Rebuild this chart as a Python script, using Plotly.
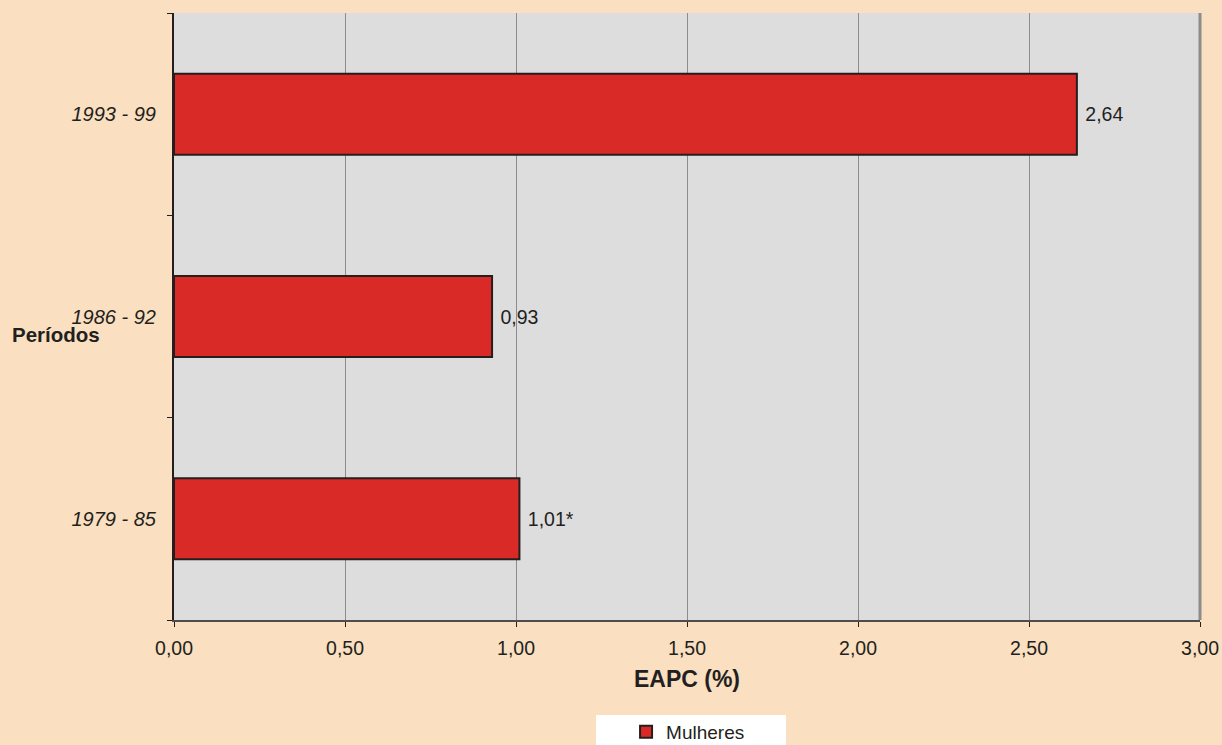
import plotly.graph_objects as go

periods = ["1979 - 85", "1986 - 92", "1993 - 99"]
values = [1.01, 0.93, 2.64]
value_labels = ["1,01*", "0,93", "2,64"]
x_ticks = [0, 0.5, 1.0, 1.5, 2.0, 2.5, 3.0]

FONT = "Liberation Sans, Arial, sans-serif"

fig = go.Figure()
fig.add_trace(go.Bar(
    y=periods, x=values, orientation="h", name="Mulheres",
    marker=dict(color="#DA2A27", line=dict(color="#231F1C", width=2)),
    width=0.4,
    text=value_labels, texttemplate=" %{text}", textposition="outside", cliponaxis=False,
    textfont=dict(family=FONT, size=19.5, color="#231F20"),
))

fig.update_layout(
    width=1222, height=745,
    margin=dict(l=174, r=22, t=13, b=125, autoexpand=False),
    paper_bgcolor="#FADFC0",
    plot_bgcolor="#DDDDDD",
    font=dict(family=FONT, size=19.5, color="#231F20"),
    separators=",.",
    showlegend=True,
    legend=dict(
        orientation="h", xref="paper", x=0.4406, xanchor="left",
        yref="container", y=0.0175, yanchor="middle",
        bgcolor="rgba(0,0,0,0)", font=dict(size=19, color="#231F20"),
        itemwidth=30,
    ),
    xaxis=dict(
        range=[0, 3], tickvals=x_ticks, tickformat=".2f", automargin=False,
        showgrid=True, gridcolor="#8C8C8C", gridwidth=1,
        showline=True, linecolor="#4D4D4D", linewidth=2, mirror=False,
        ticks="outside", ticklen=5, tickcolor="#231F20",
        ticklabelstandoff=5,
        zeroline=False,
        title=dict(text="<b>EAPC (%)</b>", font=dict(size=23), standoff=12),
        tickfont=dict(size=19.5),
    ),
    yaxis=dict(
        categoryorder="array", categoryarray=periods, automargin=False,
        range=[-0.5, 2.5],
        showline=True, linecolor="#231F20", linewidth=2,
        ticks="outside", ticklen=5, tickson="boundaries", tickcolor="#231F20",
        ticklabelstandoff=12,
        showgrid=False, zeroline=False,
        tickfont=dict(size=20, style="italic"),
    ),
    shapes=[
        dict(type="line", xref="paper", yref="paper", x0=1, x1=1, y0=0, y1=1,
             line=dict(color="#8C8C8C", width=3)),
        dict(type="rect", xref="paper", yref="paper", x0=0.4113, x1=0.5965,
             y0=-0.21, y1=-0.1565, fillcolor="#FFFFFF", line=dict(width=0),
             layer="below"),
    ],
    annotations=[dict(text="<b>Períodos</b>", xref="paper", yref="paper",
                      x=-0.1598, xanchor="left", y=0.4698, yanchor="middle",
                      showarrow=False, font=dict(size=20.5, color="#231F20"))],
)

fig.write_html("out.html", config={"displayModeBar": False},
               post_script="document.body.style.margin='0';document.body.style.padding='0';")
